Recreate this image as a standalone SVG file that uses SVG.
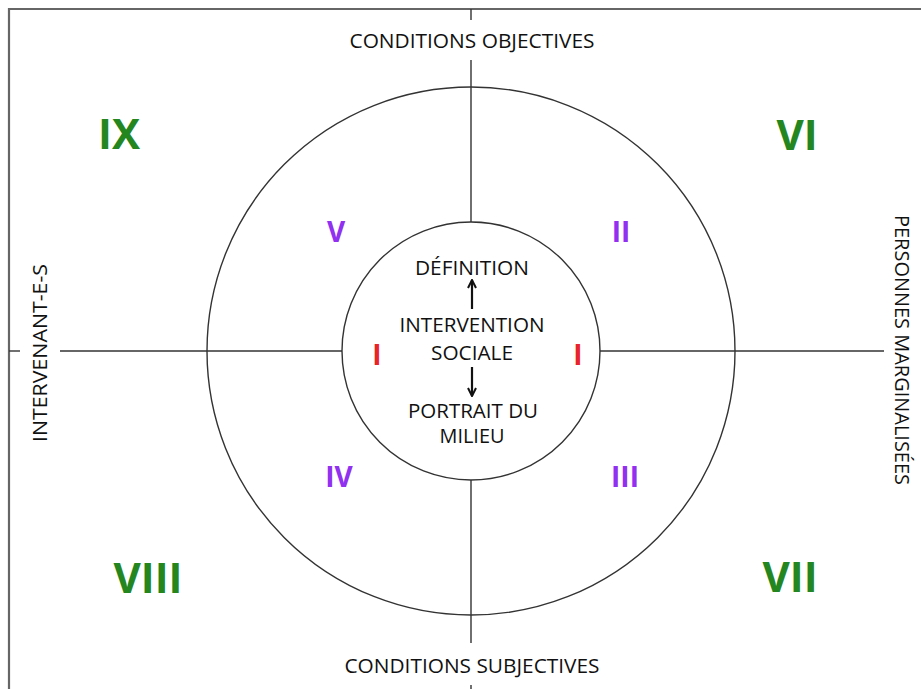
<svg xmlns="http://www.w3.org/2000/svg" width="921" height="689" viewBox="0 0 921 689">
<style>
.ln{stroke:#333;stroke-width:1.4;fill:none}
.bd{stroke:#666;stroke-width:2.2;fill:none}
.ctr{font-family:"Open Sans","Noto Sans","Liberation Sans",sans-serif;font-size:20px;font-weight:500;fill:#111;text-anchor:middle}
.g{font-family:"Open Sans","Noto Sans","Liberation Sans",sans-serif;font-weight:bold;font-size:42px;fill:#23861e;text-anchor:middle}
.p{font-family:"Open Sans","Noto Sans","Liberation Sans",sans-serif;font-weight:bold;font-size:28px;fill:#9130f0;text-anchor:middle}
.r{font-family:"Open Sans","Noto Sans","Liberation Sans",sans-serif;font-weight:bold;font-size:28px;fill:#e8232a;text-anchor:middle}
.ar{stroke:#111;stroke-width:2.2}
</style>
<defs>
<marker id="ah" viewBox="0 0 10 10" refX="9" refY="5" markerWidth="10" markerHeight="10" markerUnits="userSpaceOnUse" orient="auto">
<path d="M1,1 L9,5 L1,9" fill="none" stroke="#111" stroke-width="2"/>
</marker>
</defs>
<rect width="921" height="689" fill="#fff"/>
<g id="border">
<path class="bd" d="M9,689 V9 H921"/>
</g>
<g id="axes">
<line class="ln" x1="471" y1="9" x2="471" y2="20"/>
<line class="ln" x1="471" y1="60" x2="471" y2="643"/>
<line class="ln" x1="471" y1="685" x2="471" y2="689"/>
<line class="ln" x1="9" y1="351" x2="20" y2="351"/>
<line class="ln" x1="60" y1="351" x2="884" y2="351"/>
</g>
<g id="outer-circle"><circle class="ln" cx="471" cy="351" r="264"/></g>
<g id="inner-circle"><circle cx="471" cy="351" r="129" fill="#fff" stroke="#333" stroke-width="1.4"/></g>
<g id="center">
<text class="ctr" x="472" y="275" textLength="114" lengthAdjust="spacingAndGlyphs">DÉFINITION</text>
<text class="ctr" x="472" y="332" textLength="145" lengthAdjust="spacingAndGlyphs">INTERVENTION</text>
<text class="ctr" x="472" y="360" textLength="82" lengthAdjust="spacingAndGlyphs">SOCIALE</text>
<text class="ctr" x="473" y="418" textLength="130" lengthAdjust="spacingAndGlyphs">PORTRAIT DU</text>
<text class="ctr" x="472" y="443" textLength="65" lengthAdjust="spacingAndGlyphs">MILIEU</text>
</g>
<g id="connectors">
<line class="ar" x1="472" y1="309" x2="472" y2="280" marker-end="url(#ah)"/>
<line class="ar" x1="472" y1="367" x2="472" y2="396" marker-end="url(#ah)"/>
</g>
<g id="axis-labels">
<text class="ctr" x="472" y="48" textLength="245" lengthAdjust="spacingAndGlyphs">CONDITIONS OBJECTIVES</text>
<text class="ctr" x="472" y="673" textLength="255" lengthAdjust="spacingAndGlyphs">CONDITIONS SUBJECTIVES</text>
<text class="ctr" transform="translate(47,353) rotate(-90)" textLength="178" lengthAdjust="spacingAndGlyphs">INTERVENANT-E-S</text>
<text class="ctr" transform="translate(895,350) rotate(90)" textLength="270" lengthAdjust="spacingAndGlyphs">PERSONNES MARGINALISÉES</text>
</g>
<g id="outer-numerals">
<text class="g" x="119" y="149">IX</text>
<text class="g" x="797" y="150">VI</text>
<text class="g" x="148" y="593">VIII</text>
<text class="g" x="790" y="592">VII</text>
</g>
<g id="middle-numerals">
<text class="p" x="336" y="242">V</text>
<text class="p" x="621" y="242">II</text>
<text class="p" x="339" y="487">IV</text>
<text class="p" x="625" y="487">III</text>
</g>
<g id="inner-numerals">
<text class="r" x="377" y="365">I</text>
<text class="r" x="578" y="365">I</text>
</g>
</svg>
